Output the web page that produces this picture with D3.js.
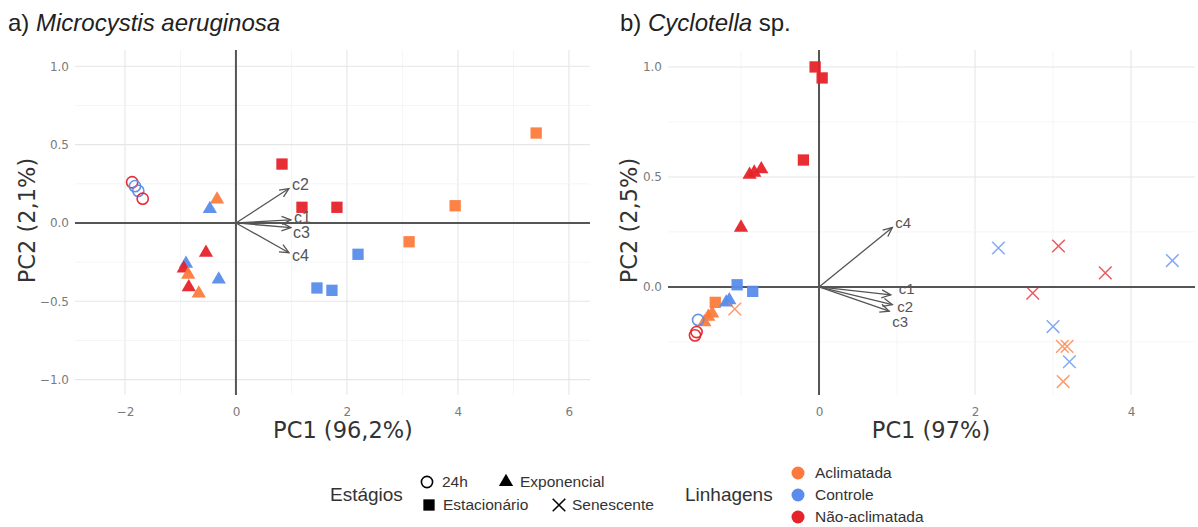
<!DOCTYPE html>
<html>
<head>
<meta charset="utf-8">
<script src="https://cdn.jsdelivr.net/npm/d3@7"></script>
<style>
  html, body { margin: 0; padding: 0; background: #fff; }
  svg { display: block; font-family: "Liberation Sans", Arial, sans-serif; }
</style>
</head>
<body>
<svg id="chart" width="1198" height="527"></svg>
<script>
// ---- PCA scores: Microcystis aeruginosa ----
const microStage    = ["24h","24h","24h","24h",
                       "Exponencial","Exponencial","Exponencial","Exponencial","Exponencial","Exponencial","Exponencial","Exponencial","Exponencial",
                       "Estacionário","Estacionário","Estacionário","Estacionário","Estacionário","Estacionário","Estacionário","Estacionário","Estacionário"];
const microLinhagem = ["Não-aclimatada","Controle","Controle","Não-aclimatada",
                       "Aclimatada","Controle","Não-aclimatada","Controle","Não-aclimatada","Aclimatada","Não-aclimatada","Aclimatada","Controle",
                       "Não-aclimatada","Não-aclimatada","Não-aclimatada","Aclimatada","Aclimatada","Aclimatada","Controle","Controle","Controle"];
const microPC1 = [-1.87,-1.82,-1.76,-1.68,
                  -0.34,-0.47,-0.54,-0.90,-0.94,-0.86,-0.85,-0.67,-0.31,
                  0.83,1.19,1.82,5.41,3.95,3.12,2.20,1.46,1.73];
const microPC2 = [0.26,0.235,0.205,0.155,
                  0.15,0.09,-0.19,-0.26,-0.29,-0.33,-0.41,-0.45,-0.36,
                  0.376,0.10,0.10,0.574,0.11,-0.12,-0.20,-0.415,-0.43];

// ---- PCA scores: Cyclotella sp. ----
const cycloStage    = ["Estacionário","Estacionário","Estacionário","Estacionário","Estacionário","Estacionário",
                       "Exponencial","Exponencial","Exponencial","Exponencial","Exponencial","Exponencial","Exponencial","Exponencial","Exponencial",
                       "24h","24h","24h",
                       "Senescente","Senescente","Senescente","Senescente","Senescente","Senescente","Senescente","Senescente","Senescente","Senescente","Senescente"];
const cycloLinhagem = ["Não-aclimatada","Não-aclimatada","Não-aclimatada","Controle","Controle","Aclimatada",
                       "Não-aclimatada","Não-aclimatada","Não-aclimatada","Não-aclimatada","Controle","Controle","Aclimatada","Aclimatada","Aclimatada",
                       "Controle","Não-aclimatada","Não-aclimatada",
                       "Controle","Não-aclimatada","Não-aclimatada","Controle","Não-aclimatada","Controle","Aclimatada","Aclimatada","Controle","Aclimatada","Aclimatada"];
const cycloPC1 = [-0.05,0.04,-0.20,-1.05,-0.85,-1.33,
                  -0.89,-0.83,-0.74,-1.00,-1.19,-1.15,-1.42,-1.47,-1.37,
                  -1.55,-1.59,-1.57,
                  2.30,3.07,3.67,4.53,2.74,3.00,3.12,3.18,3.21,3.13,-1.08];
const cycloPC2 = [1.00,0.95,0.577,0.01,-0.02,-0.07,
                  0.51,0.52,0.535,0.27,-0.07,-0.06,-0.135,-0.16,-0.12,
                  -0.15,-0.22,-0.205,
                  0.177,0.186,0.064,0.12,-0.028,-0.18,-0.27,-0.27,-0.34,-0.43,-0.10];

// ---- Variable loadings (arrows) ----
const microVars = ["c1","c2","c3","c4"];
const microVarPC1 = [0.99,0.955,0.99,0.955];
const microVarPC2 = [0.02,0.22,-0.03,-0.19];
const cycloVars = ["c1","c2","c3","c4"];
const cycloVarPC1 = [0.92,0.94,0.90,0.94];
const cycloVarPC2 = [-0.036,-0.08,-0.11,0.27];

// ---- Axis ticks ----
const microXTicks = [-2,0,2,4,6];
const microYTicks = [-1.0,-0.5,0.0,0.5,1.0];
const cycloXTicks = [0,2,4];
const cycloYTicks = [0.0,0.5,1.0];

// ---- Legends ----
const stageNames = ["24h","Exponencial","Estacionário","Senescente"];
const lineNames  = ["Aclimatada","Controle","Não-aclimatada"];
const lineColors = ["#FC7B3C","#5A8DEB","#E6232A"];

const color = d3.scaleOrdinal().domain(lineNames).range(lineColors);

const svg = d3.select("#chart");
const fmt = v => (v < 0 ? "\u2212" : "") + Math.abs(v).toFixed(1);

function scoreRows(stage, lin, pc1, pc2) {
  return pc1.map((v, i) => ({ stage: stage[i], lin: lin[i], x: v, y: pc2[i] }));
}

// Draw one marker centred on the origin of group g
function marker(g, stage, col) {
  if (stage === "24h") {
    g.append("circle").attr("r", 5.6).attr("fill", "none")
      .attr("stroke", col).attr("stroke-width", 1.6);
  } else if (stage === "Senescente") {
    const s = 6.3;
    g.append("path").attr("d", `M${-s},${-s}L${s},${s}M${-s},${s}L${s},${-s}`)
      .attr("stroke", col).attr("stroke-width", 1.5).attr("fill", "none");
  } else if (stage === "Exponencial") {
    g.append("path").attr("d", d3.symbol(d3.symbolTriangle, 88)())
      .attr("fill", col);
  } else {
    g.append("path").attr("d", d3.symbol(d3.symbolSquare, 128)())
      .attr("fill", col);
  }
}

function panel(opts) {
  const { px, py, xDom, yDom, xTicks, yTicks, rows, vars, vpc1, vpc2,
          nudges, labelSize, xTitle, yTitle, xTitleX, yTitleX } = opts;
  const x = d3.scaleLinear().domain(xDom).range(px);
  const y = d3.scaleLinear().domain(yDom).range(py);
  const g = svg.append("g");

  // grid (major + minor)
  const xMinor = d3.range(Math.ceil(xDom[0]), Math.floor(xDom[1]) + 1, 1);
  const yMinor = d3.range(Math.ceil(yDom[0] * 4) / 4, yDom[1], 0.25);
  const isMajorY = d => Math.abs(d * 2 - Math.round(d * 2)) < 1e-6;
  g.append("g").selectAll("line").data(xMinor).join("line")
    .attr("x1", d => x(d)).attr("x2", d => x(d))
    .attr("y1", py[1]).attr("y2", py[0])
    .attr("stroke", d => (d % 2 === 0 ? "#e6e6e6" : "#f2f2f2"))
    .attr("stroke-width", d => (d % 2 === 0 ? 1.1 : 0.8));
  g.append("g").selectAll("line").data(yMinor).join("line")
    .attr("x1", px[0]).attr("x2", px[1])
    .attr("y1", d => y(d)).attr("y2", d => y(d))
    .attr("stroke", d => (isMajorY(d) ? "#e6e6e6" : "#f2f2f2"))
    .attr("stroke-width", d => (isMajorY(d) ? 1.1 : 0.8));

  // zero lines
  g.append("line").attr("x1", x(0)).attr("x2", x(0)).attr("y1", py[1]).attr("y2", py[0])
    .attr("stroke", "#555").attr("stroke-width", 2);
  g.append("line").attr("x1", px[0]).attr("x2", px[1]).attr("y1", y(0)).attr("y2", y(0))
    .attr("stroke", "#555").attr("stroke-width", 2);

  // axes (labels only)
  const xa = g.append("g").attr("transform", `translate(0,${py[0]})`)
    .call(d3.axisBottom(x).tickValues(xTicks).tickSize(0).tickPadding(12)
      .tickFormat(d => (d < 0 ? "\u2212" : "") + Math.abs(d)));
  const ya = g.append("g").attr("transform", `translate(${px[0]},0)`)
    .call(d3.axisLeft(y).tickValues(yTicks).tickSize(0).tickPadding(6).tickFormat(fmt));
  [xa, ya].forEach(a => {
    a.select(".domain").remove();
    a.selectAll("text").attr("fill", "#7a7a7a").attr("font-size", 12)
      .attr("font-family", "'DejaVu Sans', sans-serif");
  });

  // scores
  g.append("g").selectAll("g").data(rows).join("g")
    .attr("transform", d => `translate(${x(d.x)},${y(d.y)})`)
    .attr("opacity", d => (d.stage === "Senescente" ? 0.75 : 0.95))
    .each(function (d) { marker(d3.select(this), d.stage, color(d.lin)); });

  // loading arrows
  const vg = g.append("g");
  vars.forEach((name, i) => {
    const x1 = x(vpc1[i]), y1 = y(vpc2[i]);
    const ang = Math.atan2(y1 - y(0), x1 - x(0));
    const h = 10, a = 0.42;
    vg.append("line").attr("x1", x(0)).attr("y1", y(0)).attr("x2", x1).attr("y2", y1)
      .attr("stroke", "#555").attr("stroke-width", 1.3);
    vg.append("path")
      .attr("d", `M${x1 - h * Math.cos(ang - a)},${y1 - h * Math.sin(ang - a)}L${x1},${y1}L${x1 - h * Math.cos(ang + a)},${y1 - h * Math.sin(ang + a)}`)
      .attr("fill", "none").attr("stroke", "#555").attr("stroke-width", 1.3);
    const n = nudges[i];
    vg.append("text").attr("x", x1 + n[0]).attr("y", y1 + n[1])
      .attr("dy", "0.35em").attr("font-size", labelSize).attr("fill", "#555")
      .attr("font-family", "'Liberation Sans', Arial, sans-serif")
      .text(name);
  });

  // axis titles
  g.append("text").attr("x", xTitleX).attr("y", 438)
    .attr("text-anchor", "middle").attr("font-size", 22.5).attr("fill", "#333")
    .attr("font-family", "'DejaVu Sans', sans-serif").text(xTitle);
  g.append("text").attr("transform", `translate(${yTitleX},${(py[0] + py[1]) / 2 - 2}) rotate(-90)`)
    .attr("text-anchor", "middle").attr("font-size", 22.5).attr("fill", "#333")
    .attr("font-family", "'DejaVu Sans', sans-serif").text(yTitle);
}

panel({
  px: [75, 590], py: [395, 50],
  xDom: [-2.90, 6.38], yDom: [-1.098, 1.104],
  xTicks: microXTicks, yTicks: microYTicks,
  rows: scoreRows(microStage, microLinhagem, microPC1, microPC2),
  vars: microVars, vpc1: microVarPC1, vpc2: microVarPC2,
  nudges: [[3, -2], [3, -4], [2, 5], [3, 3]], labelSize: 16,
  xTitle: "PC1 (96,2%)", yTitle: "PC2 (2,1%)", xTitleX: 343, yTitleX: 35
});

panel({
  px: [668, 1195], py: [395, 50],
  xDom: [-1.936, 4.82], yDom: [-0.491, 1.077],
  xTicks: cycloXTicks, yTicks: cycloYTicks,
  rows: scoreRows(cycloStage, cycloLinhagem, cycloPC1, cycloPC2),
  vars: cycloVars, vpc1: cycloVarPC1, vpc2: cycloVarPC2,
  nudges: [[8, -6], [5, 2], [3, 11], [3, -5]], labelSize: 15,
  xTitle: "PC1 (97%)", yTitle: "PC2 (2,5%)", xTitleX: 931, yTitleX: 637
});

// panel titles
const t1 = svg.append("text").attr("x", 8).attr("y", 31).attr("font-size", 24)
  .attr("fill", "#222").attr("font-family", "'Liberation Sans', Arial, sans-serif");
t1.append("tspan").text("a) ");
t1.append("tspan").attr("font-style", "italic").text("Microcystis aeruginosa");
const t2 = svg.append("text").attr("x", 620).attr("y", 31).attr("font-size", 24)
  .attr("fill", "#222").attr("font-family", "'Liberation Sans', Arial, sans-serif");
t2.append("tspan").text("b) ");
t2.append("tspan").attr("font-style", "italic").text("Cyclotella");
t2.append("tspan").text(" sp.");

// legend: stages
const leg = svg.append("g").attr("font-family", "'Liberation Sans', Arial, sans-serif");
leg.append("text").attr("x", 330).attr("y", 494).attr("dy", "0.35em")
  .attr("font-size", 19).attr("fill", "#333").text("Estágios");
const stageKeys = [
  { s: "24h", cx: 427, cy: 482, tx: 442 },
  { s: "Exponencial", cx: 506, cy: 482, tx: 520 },
  { s: "Estacionário", cx: 429, cy: 505, tx: 443 },
  { s: "Senescente", cx: 559, cy: 505, tx: 572 }
];
stageKeys.forEach(k => {
  const g = leg.append("g").attr("transform", `translate(${k.cx},${k.cy})`);
  marker(g, k.s, "#000");
  leg.append("text").attr("x", k.tx).attr("y", k.cy).attr("dy", "0.35em")
    .attr("font-size", 15.5).attr("fill", "#333").text(k.s);
});

// legend: lineages
leg.append("text").attr("x", 685).attr("y", 494).attr("dy", "0.35em")
  .attr("font-size", 19).attr("fill", "#333").text("Linhagens");
lineNames.forEach((n, i) => {
  const cy = 473 + i * 22;
  leg.append("circle").attr("cx", 798).attr("cy", cy).attr("r", 6.5).attr("fill", color(n));
  leg.append("text").attr("x", 815).attr("y", cy).attr("dy", "0.35em")
    .attr("font-size", 15.5).attr("fill", "#333").text(n);
});
</script>
</body>
</html>
